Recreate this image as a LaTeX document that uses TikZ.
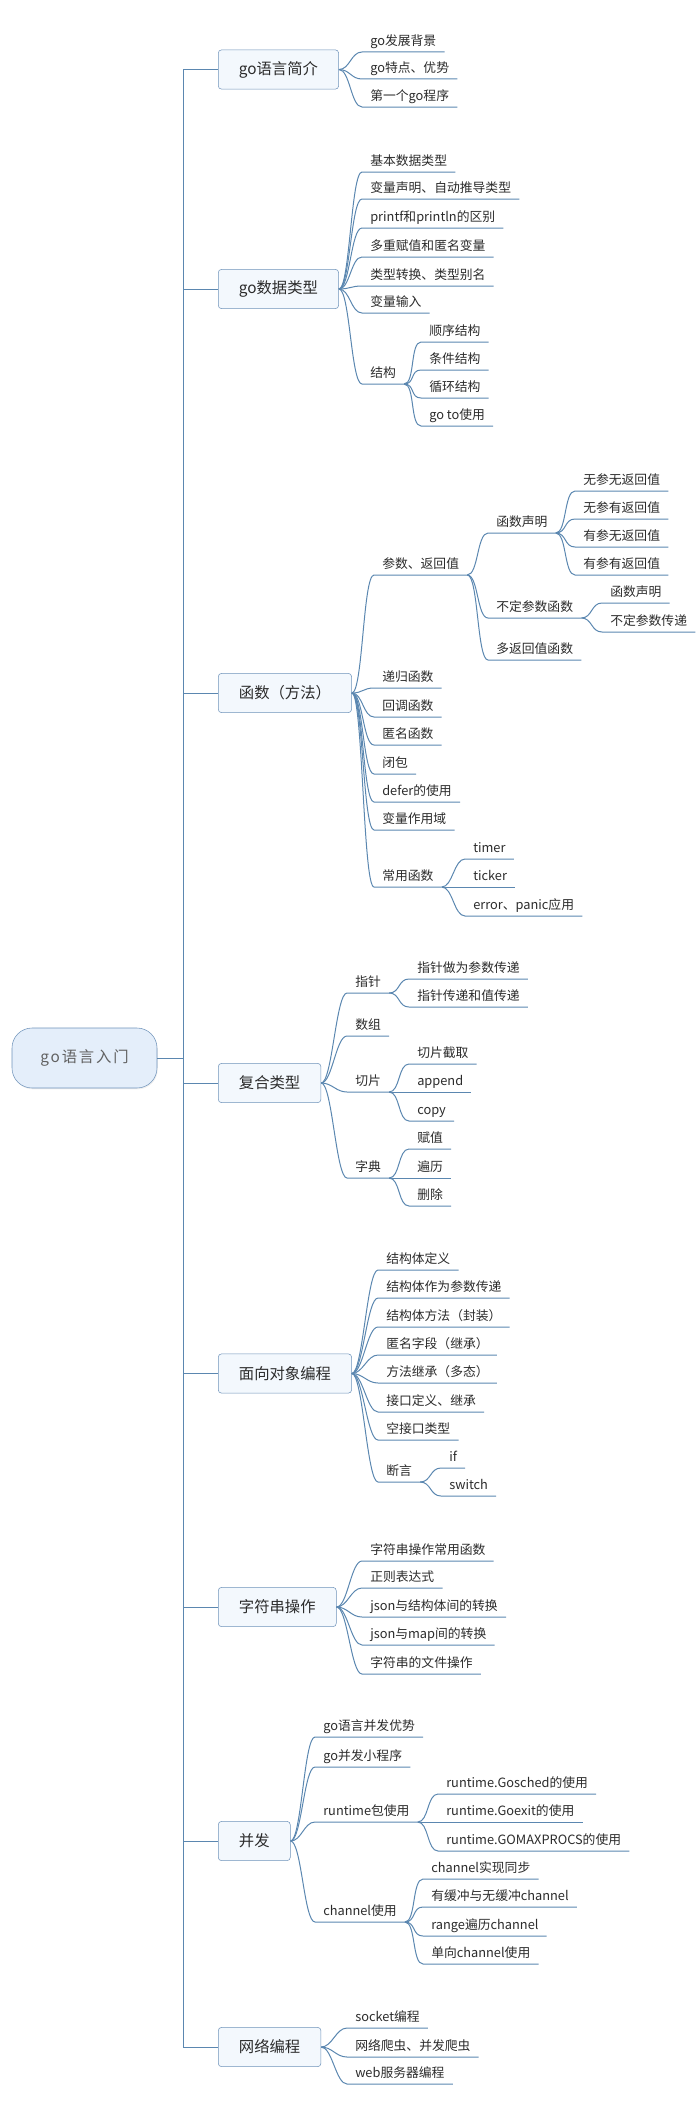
\documentclass[tikz,border=0pt]{standalone}
\usepackage{fontspec}
\setmainfont{Noto Sans CJK SC}
\newfontfamily\rootfont[LetterSpace=12]{Noto Sans CJK SC}
\usepackage{tikz}
\usetikzlibrary{shadows}
\definecolor{linecol}{HTML}{5B87B0}
\definecolor{boxline}{HTML}{6F93BA}
\definecolor{boxfill}{HTML}{F3F8FD}
\definecolor{rootfill}{HTML}{E4EEFA}
\definecolor{txtcol}{HTML}{2B2B2B}

\begin{document}
\begin{tikzpicture}
	[x=0.75pt,y=-0.75pt,
	root/.style={draw=boxline,fill=rootfill,rounded corners=15pt,minimum width=108.75pt,minimum height=45pt,text=black!62,font=\rootfont\fontsize{11.5}{12}\selectfont,drop shadow={opacity=0.12,shadow xshift=0.6pt,shadow yshift=-1pt}},
	topic/.style={draw=boxline,fill=boxfill,rounded corners=2.5pt,anchor=west,minimum height=29.5pt,inner xsep=15.5pt,text=txtcol,font=\fontsize{11.5}{12}\selectfont},
	leaf/.style={anchor=south west,inner xsep=6pt,inner ysep=2pt,text height=8.5pt,text depth=2.5pt,text=txtcol,font=\fontsize{9.6}{10}\selectfont},
	trunk/.style={draw=linecol,line width=0.75pt},
	branch/.style={draw=linecol,line width=0.75pt,to path={.. controls +(11,0) and +(-11,0) .. (\tikztotarget)}}]
	\useasboundingbox (0,0) rectangle (698,2116);

	\node[root] (root) at (84.5,1058) {go语言入门};
	\coordinate (spine) at (183,1058);

	\node[topic] (intro) at (218,69.5) {go语言简介};
	\node[topic] (dtype) at (218,289) {go数据类型};
	\node[topic] (func) at (218,693) {函数（方法）};
	\node[topic] (comp) at (218,1083) {复合类型};
	\node[topic] (oop) at (218,1373.5) {面向对象编程};
	\node[topic] (str) at (218,1607) {字符串操作};
	\node[topic] (conc) at (218,1841) {并发};
	\node[topic] (net) at (218,2047) {网络编程};

	\draw[trunk] (root.east) -- (spine);
	\draw[trunk] (spine) |- (intro.west);
	\draw[trunk] (spine) |- (dtype.west);
	\draw[trunk] (spine) |- (func.west);
	\draw[trunk] (spine) |- (comp.west);
	\draw[trunk] (spine) |- (oop.west);
	\draw[trunk] (spine) |- (str.west);
	\draw[trunk] (spine) |- (conc.west);
	\draw[trunk] (spine) |- (net.west);

	% go语言简介
	\node[leaf] (i1) at (362,52) {go发展背景};
	\node[leaf] (i2) at (362,79) {go特点、优势};
	\node[leaf] (i3) at (362,107) {第一个go程序};
	\draw[branch] (intro.east) to (i1.south west) -- (i1.south east);
	\draw[branch] (intro.east) to (i2.south west) -- (i2.south east);
	\draw[branch] (intro.east) to (i3.south west) -- (i3.south east);

	% go数据类型
	\node[leaf] (d1) at (362,172) {基本数据类型};
	\node[leaf] (d2) at (362,199) {变量声明、自动推导类型};
	\node[leaf] (d3) at (362,228) {printf和println的区别};
	\node[leaf] (d4) at (362,257) {多重赋值和匿名变量};
	\node[leaf] (d5) at (362,286) {类型转换、类型别名};
	\node[leaf] (d6) at (362,313) {变量输入};
	\node[leaf] (d7) at (362,384) {结构};
	\draw[branch] (dtype.east) to (d1.south west) -- (d1.south east);
	\draw[branch] (dtype.east) to (d2.south west) -- (d2.south east);
	\draw[branch] (dtype.east) to (d3.south west) -- (d3.south east);
	\draw[branch] (dtype.east) to (d4.south west) -- (d4.south east);
	\draw[branch] (dtype.east) to (d5.south west) -- (d5.south east);
	\draw[branch] (dtype.east) to (d6.south west) -- (d6.south east);
	\draw[branch] (dtype.east) to (d7.south west) -- (d7.south east);
	\node[leaf] (d7a) at (421,342) {顺序结构};
	\node[leaf] (d7b) at (421,370) {条件结构};
	\node[leaf] (d7c) at (421,398) {循环结构};
	\node[leaf] (d7d) at (421,426) {go to使用};
	\draw[branch] (d7.south east) to (d7a.south west) -- (d7a.south east);
	\draw[branch] (d7.south east) to (d7b.south west) -- (d7b.south east);
	\draw[branch] (d7.south east) to (d7c.south west) -- (d7c.south east);
	\draw[branch] (d7.south east) to (d7d.south west) -- (d7d.south east);

	% 函数（方法）
	\node[leaf] (f1) at (374,575) {参数、返回值};
	\node[leaf] (f2) at (374,688) {递归函数};
	\node[leaf] (f3) at (374,717) {回调函数};
	\node[leaf] (f4) at (374,745) {匿名函数};
	\node[leaf] (f5) at (374,774) {闭包};
	\node[leaf] (f6) at (374,802) {defer的使用};
	\node[leaf] (f7) at (374,830) {变量作用域};
	\node[leaf] (f8) at (374,887) {常用函数};
	\draw[branch] (func.east) to (f1.south west) -- (f1.south east);
	\draw[branch] (func.east) to (f2.south west) -- (f2.south east);
	\draw[branch] (func.east) to (f3.south west) -- (f3.south east);
	\draw[branch] (func.east) to (f4.south west) -- (f4.south east);
	\draw[branch] (func.east) to (f5.south west) -- (f5.south east);
	\draw[branch] (func.east) to (f6.south west) -- (f6.south east);
	\draw[branch] (func.east) to (f7.south west) -- (f7.south east);
	\draw[branch] (func.east) to (f8.south west) -- (f8.south east);
	\node[leaf] (f1a) at (488,533) {函数声明};
	\node[leaf] (f1b) at (488,618) {不定参数函数};
	\node[leaf] (f1c) at (488,660) {多返回值函数};
	\draw[branch] (f1.south east) to (f1a.south west) -- (f1a.south east);
	\draw[branch] (f1.south east) to (f1b.south west) -- (f1b.south east);
	\draw[branch] (f1.south east) to (f1c.south west) -- (f1c.south east);
	\node[leaf] (f1a1) at (575,491) {无参无返回值};
	\node[leaf] (f1a2) at (575,519) {无参有返回值};
	\node[leaf] (f1a3) at (575,547) {有参无返回值};
	\node[leaf] (f1a4) at (575,575) {有参有返回值};
	\draw[branch] (f1a.south east) to (f1a1.south west) -- (f1a1.south east);
	\draw[branch] (f1a.south east) to (f1a2.south west) -- (f1a2.south east);
	\draw[branch] (f1a.south east) to (f1a3.south west) -- (f1a3.south east);
	\draw[branch] (f1a.south east) to (f1a4.south west) -- (f1a4.south east);
	\node[leaf] (f1b1) at (602,603) {函数声明};
	\node[leaf] (f1b2) at (602,632) {不定参数传递};
	\draw[branch] (f1b.south east) to (f1b1.south west) -- (f1b1.south east);
	\draw[branch] (f1b.south east) to (f1b2.south west) -- (f1b2.south east);
	\node[leaf] (f8a) at (465,859) {timer};
	\node[leaf] (f8b) at (465,887) {ticker};
	\node[leaf] (f8c) at (465,916) {error、panic应用};
	\draw[branch] (f8.south east) to (f8a.south west) -- (f8a.south east);
	\draw[branch] (f8.south east) to (f8b.south west) -- (f8b.south east);
	\draw[branch] (f8.south east) to (f8c.south west) -- (f8c.south east);

	% 复合类型
	\node[leaf] (c1) at (347,993) {指针};
	\node[leaf] (c2) at (347,1036) {数组};
	\node[leaf] (c3) at (347,1092) {切片};
	\node[leaf] (c4) at (347,1178) {字典};
	\draw[branch] (comp.east) to (c1.south west) -- (c1.south east);
	\draw[branch] (comp.east) to (c2.south west) -- (c2.south east);
	\draw[branch] (comp.east) to (c3.south west) -- (c3.south east);
	\draw[branch] (comp.east) to (c4.south west) -- (c4.south east);
	\node[leaf] (c1a) at (409,979) {指针做为参数传递};
	\node[leaf] (c1b) at (409,1007) {指针传递和值传递};
	\draw[branch] (c1.south east) to (c1a.south west) -- (c1a.south east);
	\draw[branch] (c1.south east) to (c1b.south west) -- (c1b.south east);
	\node[leaf] (c3a) at (409,1064) {切片截取};
	\node[leaf] (c3b) at (409,1092) {append};
	\node[leaf] (c3c) at (409,1121) {copy};
	\draw[branch] (c3.south east) to (c3a.south west) -- (c3a.south east);
	\draw[branch] (c3.south east) to (c3b.south west) -- (c3b.south east);
	\draw[branch] (c3.south east) to (c3c.south west) -- (c3c.south east);
	\node[leaf] (c4a) at (409,1149) {赋值};
	\node[leaf] (c4b) at (409,1178) {遍历};
	\node[leaf] (c4c) at (409,1206) {删除};
	\draw[branch] (c4.south east) to (c4a.south west) -- (c4a.south east);
	\draw[branch] (c4.south east) to (c4b.south west) -- (c4b.south east);
	\draw[branch] (c4.south east) to (c4c.south west) -- (c4c.south east);

	% 面向对象编程
	\node[leaf] (o1) at (378,1270) {结构体定义};
	\node[leaf] (o2) at (378,1298) {结构体作为参数传递};
	\node[leaf] (o3) at (378,1327) {结构体方法（封装）};
	\node[leaf] (o4) at (378,1355) {匿名字段（继承）};
	\node[leaf] (o5) at (378,1383) {方法继承（多态）};
	\node[leaf] (o6) at (378,1412) {接口定义、继承};
	\node[leaf] (o7) at (378,1440) {空接口类型};
	\node[leaf] (o8) at (378,1482) {断言};
	\draw[branch] (oop.east) to (o1.south west) -- (o1.south east);
	\draw[branch] (oop.east) to (o2.south west) -- (o2.south east);
	\draw[branch] (oop.east) to (o3.south west) -- (o3.south east);
	\draw[branch] (oop.east) to (o4.south west) -- (o4.south east);
	\draw[branch] (oop.east) to (o5.south west) -- (o5.south east);
	\draw[branch] (oop.east) to (o6.south west) -- (o6.south east);
	\draw[branch] (oop.east) to (o7.south west) -- (o7.south east);
	\draw[branch] (oop.east) to (o8.south west) -- (o8.south east);
	\node[leaf] (o8a) at (441,1468) {if};
	\node[leaf] (o8b) at (441,1496) {switch};
	\draw[branch] (o8.south east) to (o8a.south west) -- (o8a.south east);
	\draw[branch] (o8.south east) to (o8b.south west) -- (o8b.south east);

	% 字符串操作
	\node[leaf] (s1) at (362,1561) {字符串操作常用函数};
	\node[leaf] (s2) at (362,1588) {正则表达式};
	\node[leaf] (s3) at (362,1617) {json与结构体间的转换};
	\node[leaf] (s4) at (362,1645) {json与map间的转换};
	\node[leaf] (s5) at (362,1674) {字符串的文件操作};
	\draw[branch] (str.east) to (s1.south west) -- (s1.south east);
	\draw[branch] (str.east) to (s2.south west) -- (s2.south east);
	\draw[branch] (str.east) to (s3.south west) -- (s3.south east);
	\draw[branch] (str.east) to (s4.south west) -- (s4.south east);
	\draw[branch] (str.east) to (s5.south west) -- (s5.south east);

	% 并发
	\node[leaf] (g1) at (315,1737) {go语言并发优势};
	\node[leaf] (g2) at (315,1767) {go并发小程序};
	\node[leaf] (g3) at (315,1822) {runtime包使用};
	\node[leaf] (g4) at (315,1922) {channel使用};
	\draw[branch] (conc.east) to (g1.south west) -- (g1.south east);
	\draw[branch] (conc.east) to (g2.south west) -- (g2.south east);
	\draw[branch] (conc.east) to (g3.south west) -- (g3.south east);
	\draw[branch] (conc.east) to (g4.south west) -- (g4.south east);
	\node[leaf] (g3a) at (438,1794) {runtime.Gosched的使用};
	\node[leaf] (g3b) at (438,1822) {runtime.Goexit的使用};
	\node[leaf] (g3c) at (438,1851) {runtime.GOMAXPROCS的使用};
	\draw[branch] (g3.south east) to (g3a.south west) -- (g3a.south east);
	\draw[branch] (g3.south east) to (g3b.south west) -- (g3b.south east);
	\draw[branch] (g3.south east) to (g3c.south west) -- (g3c.south east);
	\node[leaf] (g4a) at (423,1879) {channel实现同步};
	\node[leaf] (g4b) at (423,1907) {有缓冲与无缓冲channel};
	\node[leaf] (g4c) at (423,1936) {range遍历channel};
	\node[leaf] (g4d) at (423,1964) {单向channel使用};
	\draw[branch] (g4.south east) to (g4a.south west) -- (g4a.south east);
	\draw[branch] (g4.south east) to (g4b.south west) -- (g4b.south east);
	\draw[branch] (g4.south east) to (g4c.south west) -- (g4c.south east);
	\draw[branch] (g4.south east) to (g4d.south west) -- (g4d.south east);

	% 网络编程
	\node[leaf] (n1) at (347,2028) {socket编程};
	\node[leaf] (n2) at (347,2057) {网络爬虫、并发爬虫};
	\node[leaf] (n3) at (347,2084) {web服务器编程};
	\draw[branch] (net.east) to (n1.south west) -- (n1.south east);
	\draw[branch] (net.east) to (n2.south west) -- (n2.south east);
	\draw[branch] (net.east) to (n3.south west) -- (n3.south east);
\end{tikzpicture}
\end{document}
